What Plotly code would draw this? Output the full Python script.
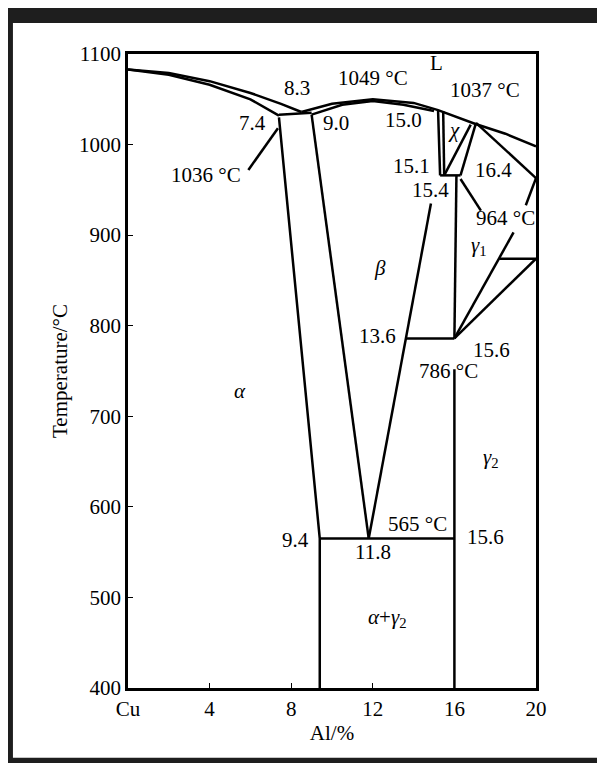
import plotly.graph_objects as go

# phase boundary lines (Al %, T °C)
liq_cu_x = [0, 2, 4, 6, 7.5, 8.5]
liq_cu_y = [1083, 1079, 1070, 1057, 1045, 1036]
sol_cu_x = [0, 2, 4, 6, 7.4]
sol_cu_y = [1083, 1077, 1066, 1050, 1032]
liq_b_x = [8.5, 10, 12, 14, 15.2, 17, 18.5, 20]
liq_b_y = [1036, 1045, 1050, 1046, 1038, 1023, 1012, 998]
sol_b_x = [9.0, 10.5, 12, 13.5, 15.0]
sol_b_y = [1033, 1044, 1048, 1044, 1037]
peri_x = [7.4, 9.0]; peri_y = [1033, 1035]
alpha_x = [7.4, 9.4, 9.4]; alpha_y = [1030, 565, 400]
betaL_x = [9.0, 11.8]; betaL_y = [1033, 565]
betaR_x = [11.8, 13.6, 14.85]; betaR_y = [565, 786, 935]
eut_x = [9.4, 16.0]; eut_y = [565, 565]
t786_x = [13.6, 16.0]; t786_y = [786, 786]
g2a_x = [16.0, 16.0]; g2a_y = [400, 752]
g2b_x = [16.0, 16.1]; g2b_y = [786, 966]
chi1_x = [15.2, 15.3]; chi1_y = [1037, 966]
chi2_x = [15.45, 15.5]; chi2_y = [1037, 966]
t964_x = [15.3, 16.3]; t964_y = [966, 966]
chi3_x = [15.5, 16.8]; chi3_y = [966, 1022]
chi4_x = [16.3, 17.06]; chi4_y = [966, 1024]
g1a_x = [17.06, 20]; g1a_y = [1024, 963]
g1b_x = [16.0, 18.9]; g1b_y = [786, 903]
g1c_x = [19.5, 20]; g1c_y = [933, 963]
g1d_x = [16.0, 20]; g1d_y = [786, 874]
t874_x = [18.2, 20]; t874_y = [874, 874]
lead1_x = [5.9, 7.35]; lead1_y = [972, 1018]
lead2_x = [16.3, 17.3]; lead2_y = [962, 927]

segs = [(liq_cu_x, liq_cu_y), (sol_cu_x, sol_cu_y), (liq_b_x, liq_b_y), (sol_b_x, sol_b_y),
        (peri_x, peri_y), (alpha_x, alpha_y), (betaL_x, betaL_y), (betaR_x, betaR_y),
        (eut_x, eut_y), (t786_x, t786_y), (g2a_x, g2a_y), (g2b_x, g2b_y),
        (chi1_x, chi1_y), (chi2_x, chi2_y), (t964_x, t964_y), (chi3_x, chi3_y),
        (chi4_x, chi4_y), (g1a_x, g1a_y), (g1b_x, g1b_y), (g1c_x, g1c_y),
        (g1d_x, g1d_y), (t874_x, t874_y), (lead1_x, lead1_y), (lead2_x, lead2_y)]

label_text = ["1049 °C", "L", "1037 °C", "1021 °C", "8.3", "7.4", "9.0", "15.0", "<i>χ</i>",
              "1036 °C", "15.1", "15.4", "16.4", "964 °C", "<i>γ</i><sub>1</sub>", "874 °C", "<i>β</i>",
              "13.6", "15.6", "786 °C", "<i>α</i>", "<i>γ</i><sub>2</sub>", "9.4", "565 °C", "11.8", "15.6",
              "<i>α</i>+<i>γ</i><sub>2</sub>"]
label_x = [12.0, 15.1, 17.5, 20.4, 8.3, 6.1, 10.2, 13.5, 16.0, 3.8, 13.9, 14.85, 17.9, 18.5,
           17.2, 20.8, 12.35, 12.25, 17.8, 15.7, 5.5, 17.8, 8.2, 14.2, 12.0, 17.5, 12.7]
label_y = [1074, 1090, 1060, 1037, 1062, 1024, 1024, 1027, 1016, 966, 976, 950, 972, 919,
           888, 891, 864, 789, 773, 750, 728, 654, 563, 581, 550, 567, 477]

x_ticks = [0, 4, 8, 12, 16, 20]
x_tick_text = ["Cu", "4", "8", "12", "16", "20"]
y_ticks = [400, 500, 600, 700, 800, 900, 1000, 1100]

FONT = "Liberation Serif, Times New Roman, serif"
fig = go.Figure()
for xs, ys in segs:
    fig.add_trace(go.Scatter(x=xs, y=ys, mode="lines", line=dict(color="black", width=2.5),
                             showlegend=False, hoverinfo="skip", cliponaxis=False))
for t, x, y in zip(label_text, label_x, label_y):
    fig.add_annotation(x=x, y=y, text=t, showarrow=False,
                       font=dict(family=FONT, size=21, color="black"))

fig.add_shape(type="rect", xref="paper", yref="paper", x0=-0.282, x1=1.172, y0=-0.110, y1=1.049,
              fillcolor="white", line=dict(width=0), layer="below")

axis_common = dict(showgrid=False, zeroline=False, showline=True, linecolor="black", linewidth=2.5,
                   mirror=True, ticks="inside", ticklen=5, tickcolor="black",
                   tickfont=dict(family=FONT, size=21, color="black"))
fig.update_xaxes(range=[0, 20], tickvals=x_ticks, ticktext=x_tick_text,
                 title=dict(text="Al/%", font=dict(family=FONT, size=21, color="black"), standoff=6),
                 **axis_common)
fig.update_yaxes(range=[400, 1100], tickvals=y_ticks,
                 title=dict(text="Temperature/°C", font=dict(family=FONT, size=21, color="black"), standoff=6),
                 **axis_common)
fig.update_layout(width=605, height=763, margin=dict(l=120, r=77, t=46, b=83),
                  paper_bgcolor="#1e1e1e", plot_bgcolor="white")
fig.write_html("out.html")
